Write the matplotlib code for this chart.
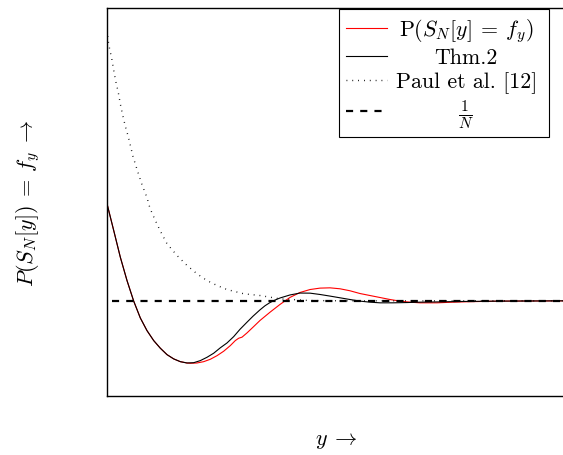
import numpy as np
import matplotlib
matplotlib.use("Agg")
import matplotlib.pyplot as plt

plt.rcParams['font.family'] = 'serif'
plt.rcParams['font.serif'] = ['cmr10']
plt.rcParams['mathtext.fontset'] = 'cm'
plt.rcParams['axes.unicode_minus'] = False

# values (x = position y, p = probability, 1/N = 0.1)
x_sim = [0, 6.7, 13.3, 20, 26.7, 33.3, 40, 46.7, 53.3, 60, 66.7, 73.3, 80, 83.3,
         90, 96.7, 103.3, 110, 116.7, 123.3, 128.3, 131.7, 135, 140, 146.3, 153,
         163, 173, 183, 193, 203, 213, 223, 233, 243, 253, 263, 273, 283, 293,
         303, 313, 330, 346, 363, 393, 458]
p_sim = [0.2024, 0.1742, 0.1461, 0.1214, 0.0997, 0.0820, 0.0686, 0.0581, 0.0501,
         0.0433, 0.0388, 0.0359, 0.0345, 0.0342, 0.0345, 0.0359, 0.0384, 0.0422,
         0.0469, 0.0528, 0.0581, 0.0606, 0.0617, 0.0662, 0.0725, 0.0793, 0.0880,
         0.0962, 0.1036, 0.1088, 0.1119, 0.1134, 0.1137, 0.1127, 0.1106, 0.1077,
         0.1056, 0.1035, 0.1014, 0.0997, 0.0986, 0.0979, 0.0979, 0.0986, 0.0991,
         0.0997, 0.1000]

x_thm = [0, 6.7, 13.3, 20, 26.7, 33.3, 40, 46.7, 53.3, 60, 66.7, 73.3, 80, 86.7,
         93.3, 100, 106.7, 113.3, 120, 126.7, 133, 140, 146, 153, 158, 163, 168,
         173, 183, 193, 203, 213, 223, 233, 243, 253, 263, 273, 286, 300, 313,
         333, 353, 393, 458]
p_thm = [0.2024, 0.1742, 0.1461, 0.1214, 0.0997, 0.0820, 0.0686, 0.0581, 0.0501,
         0.0433, 0.0388, 0.0359, 0.0345, 0.0348, 0.0370, 0.0405, 0.0448, 0.0505,
         0.0556, 0.0623, 0.0700, 0.0775, 0.0838, 0.0905, 0.0948, 0.0982, 0.1008,
         0.1030, 0.1062, 0.1082, 0.1081, 0.1067, 0.1050, 0.1032, 0.1014, 0.0997,
         0.0986, 0.0979, 0.0979, 0.0982, 0.0986, 0.0989, 0.0993, 0.0997, 0.1000]

x_paul = [0, 1.3, 2.3, 4.7, 6.7, 8.7, 11.3, 13.3, 15.7, 18.3, 21.3, 26, 31, 35, 40,
          43, 48, 53, 60, 70, 80, 90, 100, 110, 120, 137, 153, 173, 203, 243, 458]
p_paul = [0.3851, 0.3735, 0.3672, 0.3555, 0.3432, 0.3316, 0.3196, 0.3077, 0.2957,
          0.2841, 0.2729, 0.2521, 0.2352, 0.2225, 0.2088, 0.1975, 0.1855, 0.1742,
          0.1602, 0.1478, 0.1373, 0.1285, 0.1214, 0.1162, 0.1119, 0.1074, 0.1056,
          0.1021, 0.1003, 0.1000, 0.1000]

inv_n = 0.1

fig = plt.figure(figsize=(5.63, 4.56), dpi=100)
ax = fig.add_axes([0.19005, 0.130, 0.8135, 0.8496])

ax.plot(x_sim, p_sim, color='red', lw=0.8, label=r'P$(S_N[y]\:=\:f_y)$')
ax.plot(x_thm, p_thm, color='black', lw=0.8, label='Thm.2')
ax.plot(x_paul, p_paul, color='black', lw=1.0, linestyle=(0, (0.6, 3.6)),
        label='Paul et al. [12]')
ax.axhline(inv_n, xmin=0.011, color='black', lw=1.6, linestyle=(0, (3.2, 3.2)),
           label=r'$\frac{1}{N}$')

ax.set_xlim(0, 458)
ax.set_ylim(0, 0.4083)
ax.set_xticks([])
ax.set_yticks([])
for s in ax.spines.values():
    s.set_linewidth(1.0)

ax.set_xlabel(r'$y\:\rightarrow$', fontsize=16, labelpad=25)
ax.set_ylabel(r'$P(S_N[y])\:=\:f_y\:\rightarrow$', fontsize=16, labelpad=47)

leg = ax.legend(loc='upper right', bbox_to_anchor=(0.965, 0.998), fontsize=15.8,
                fancybox=False, framealpha=1, edgecolor='black',
                borderpad=0.32, handlelength=1.85, handletextpad=0.64,
                labelspacing=0.18, borderaxespad=0)
leg.get_frame().set_linewidth(0.8)

# center the legend labels like the original, nudged a bit to the left
fig.canvas.draw()
r = fig.canvas.get_renderer()
texts = leg.get_texts()
widths = [t.get_window_extent(r).width for t in texts]
wmax = max(widths)
for t, w in zip(texts, widths):
    t.set_x((wmax - w) / 2 - 5)

fig.savefig('out.png', dpi=100)
